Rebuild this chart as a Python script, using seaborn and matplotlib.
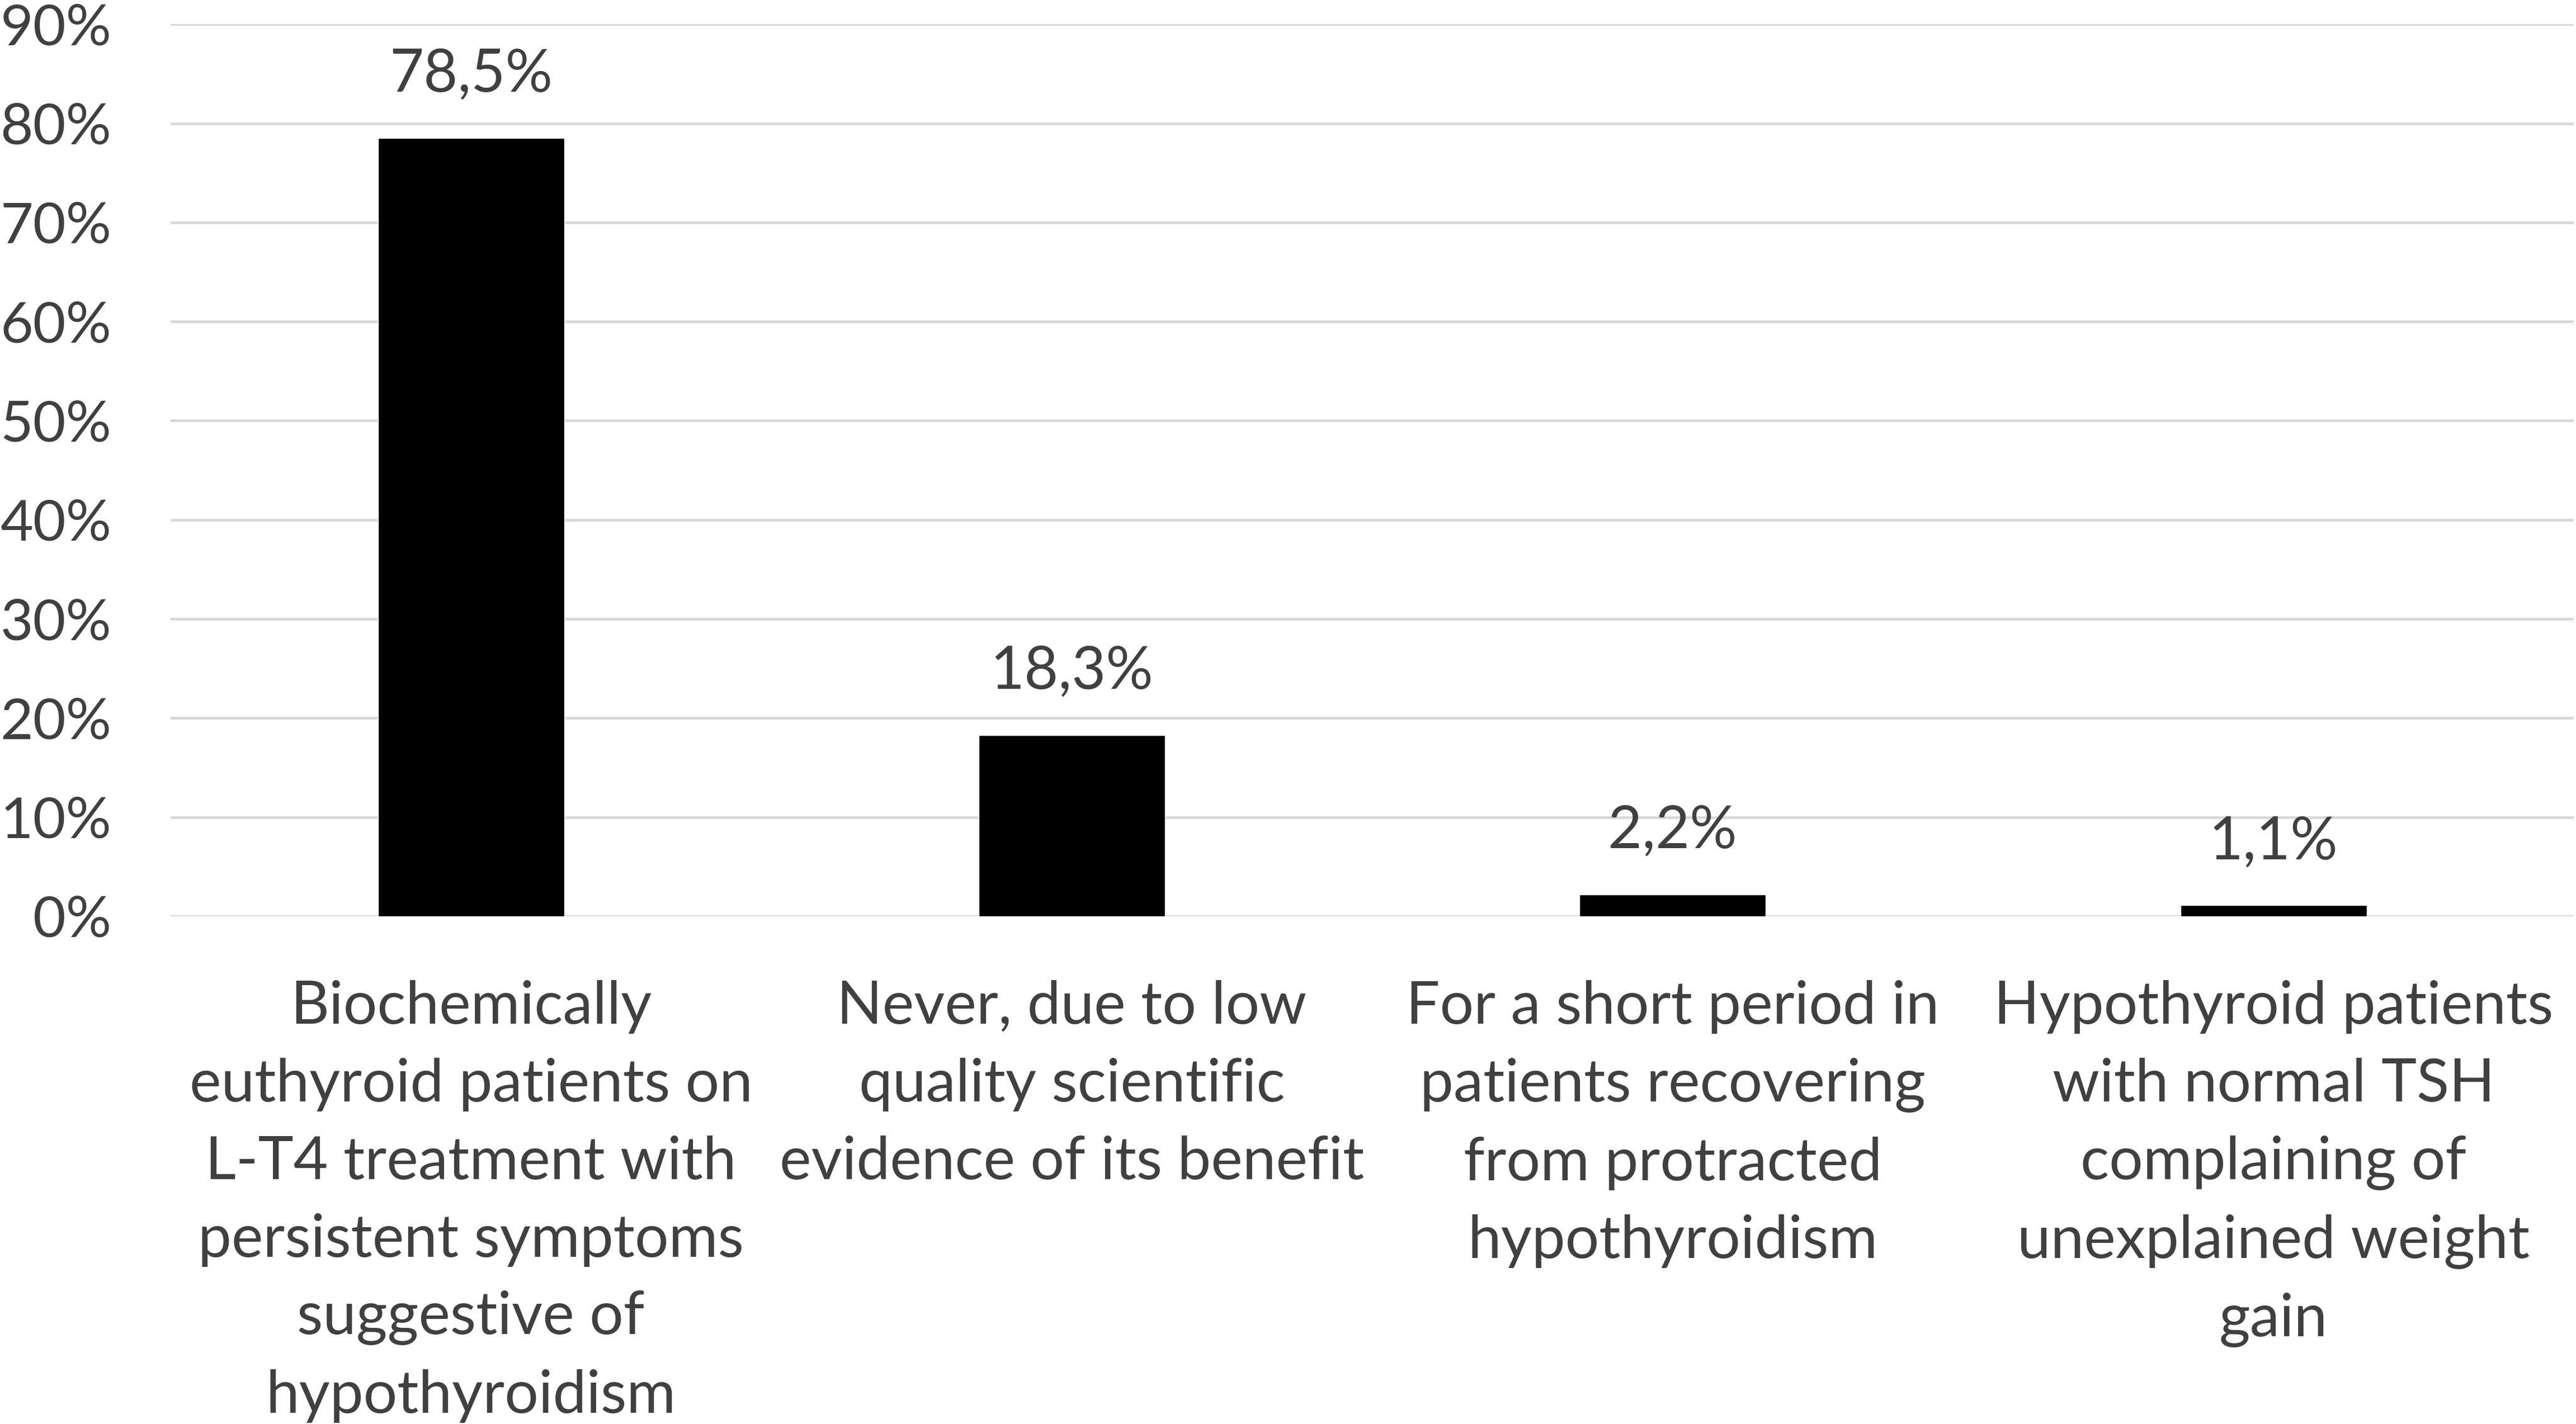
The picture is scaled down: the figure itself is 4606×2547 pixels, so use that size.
import seaborn as sns
from matplotlib import pyplot as plt
from matplotlib.ticker import FuncFormatter, MultipleLocator

categories = [
    "Biochemically\neuthyroid patients on\nL-T4 treatment with\npersistent symptoms\nsuggestive of\nhypothyroidism",
    "Never, due to low\nquality scientific\nevidence of its benefit",
    "For a short period in\npatients recovering\nfrom protracted\nhypothyroidism",
    "Hypothyroid patients\nwith normal TSH\ncomplaining of\nunexplained weight\ngain",
]
shares = [0.785, 0.183, 0.022, 0.011]

sns.set_theme(style="white")
plt.rcParams["font.family"] = ["Lato", "DejaVu Sans"]
text_color = "#404040"

fig = plt.figure(figsize=(46.06, 25.47), dpi=100)
ax = fig.add_axes([0.0662, 0.3565, 0.9330, 0.6265])

sns.barplot(x=categories, y=shares, color="black", width=0.31,
            saturation=1, ax=ax, zorder=3)

# value labels above bars, with decimal comma
for i, v in enumerate(shares):
    ax.annotate(f"{v * 100:.1f}%".replace(".", ","), (i, v),
                xytext=(0, 60), textcoords="offset points",
                ha="center", va="baseline", fontsize=76, color=text_color)

ax.set_ylim(0, 0.9)
ax.set_xlim(-0.5, 3.5)
ax.yaxis.set_major_locator(MultipleLocator(0.1))
ax.yaxis.set_major_formatter(FuncFormatter(lambda y, _: f"{y * 100:.0f}%"))
ax.grid(axis="y", color="#d9d9d9", linewidth=3.6, zorder=0)
ax.set_axisbelow(True)
ax.tick_params(axis="y", length=0, pad=76, labelsize=73, labelcolor=text_color)
ax.tick_params(axis="x", length=0, pad=82, labelsize=77, labelcolor=text_color)
for lab in ax.get_xticklabels():
    lab.set_linespacing(1.55)
sns.despine(left=True, bottom=True)

fig.savefig("out.png", dpi=100, facecolor="white")
